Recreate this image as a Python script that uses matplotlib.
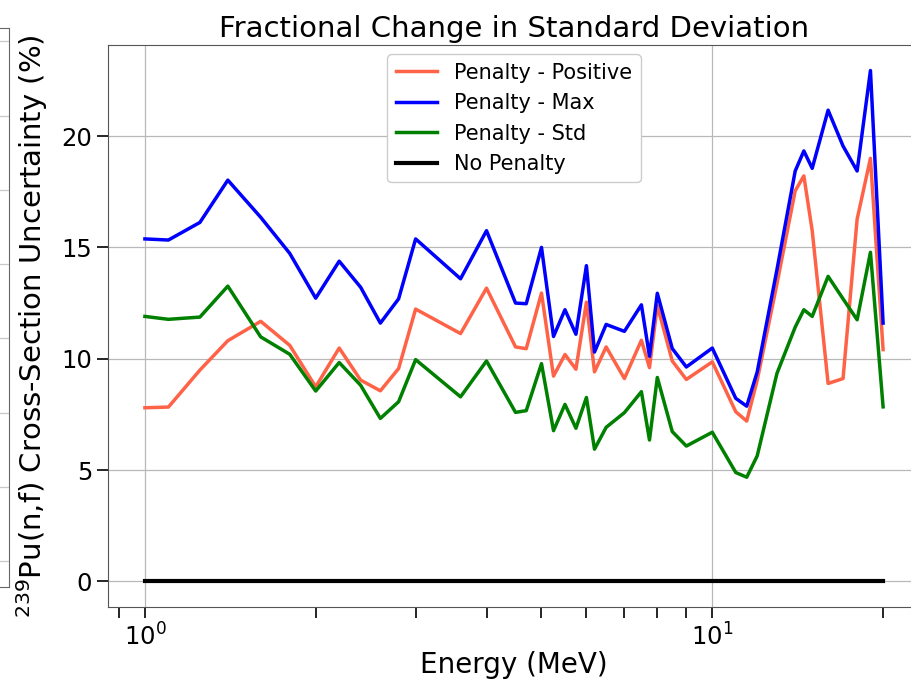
import matplotlib
matplotlib.use("Agg")
import matplotlib.pyplot as plt
import numpy as np

# energy grid (MeV)
energy = [1.0, 1.1, 1.25, 1.4, 1.6, 1.8, 2.0, 2.2, 2.4, 2.6, 2.8, 3.0, 3.6, 4.0,
          4.5, 4.7, 5.0, 5.25, 5.5, 5.75, 6.0, 6.2, 6.5, 7.0, 7.5, 7.75, 8.0, 8.5,
          9.0, 10.0, 11.0, 11.5, 12.0, 13.0, 14.0, 14.5, 15.0, 16.0, 17.0, 18.0,
          19.0, 20.0]

pen_positive = [7.80, 7.83, 9.49, 10.81, 11.68, 10.60, 8.74, 10.48, 9.04, 8.56,
                9.56, 12.23, 11.13, 13.17, 10.53, 10.45, 12.95, 9.22, 10.19, 9.53,
                12.54, 9.41, 10.53, 9.11, 10.83, 9.60, 12.39, 9.90, 9.07, 9.86,
                7.62, 7.20, 9.04, 13.36, 17.54, 18.21, 15.75, 8.89, 9.11, 16.27,
                19.00, 10.41]

pen_max = [15.38, 15.33, 16.12, 18.02, 16.35, 14.73, 12.72, 14.38, 13.21, 11.60,
           12.69, 15.38, 13.59, 15.75, 12.50, 12.47, 15.00, 11.00, 12.20, 11.10,
           14.18, 10.30, 11.54, 11.23, 12.42, 10.11, 12.94, 10.46, 9.63, 10.48,
           8.22, 7.87, 9.41, 14.00, 18.43, 19.33, 18.55, 21.16, 19.55, 18.43,
           22.94, 11.60]

pen_std = [11.90, 11.77, 11.87, 13.26, 10.98, 10.20, 8.55, 9.83, 8.81, 7.32,
           8.07, 9.96, 8.29, 9.90, 7.59, 7.67, 9.78, 6.77, 7.95, 6.88, 8.26,
           5.94, 6.92, 7.58, 8.52, 6.35, 9.16, 6.73, 6.08, 6.70, 4.89, 4.68,
           5.64, 9.34, 11.42, 12.20, 11.90, 13.70, 12.69, 11.75, 14.78, 7.84]

no_penalty = [0.0] * len(energy)

plt.rcParams['font.family'] = ['DejaVu Sans']

fig = plt.figure(figsize=(9.12, 6.83), dpi=100)

# edge of the neighbouring panel (mostly cropped away)
ax0 = fig.add_axes([-0.5, 1 - 587 / 683, 0.5 + 9 / 912, 559 / 683])
ax0.set_ylim(-0.35, 7.18)
ax0.set_yticks(range(8))
ax0.set_xticks([])
ax0.tick_params(left=False, labelleft=False)
ax0.grid(True, axis='y', color='#c8c8c8', lw=0.9)
for s in ax0.spines.values():
    s.set_color('#666666')

ax = fig.add_axes([108 / 912, 1 - 607 / 683, 812 / 912, 562 / 683])
ax.plot(energy, pen_positive, color='tomato', lw=2.5, label='Penalty - Positive')
ax.plot(energy, pen_max, color='blue', lw=2.5, label='Penalty - Max')
ax.plot(energy, pen_std, color='green', lw=2.5, label='Penalty - Std')
ax.plot(energy, no_penalty, color='black', lw=3, label='No Penalty')
ax.set_xscale('log')

ax.grid(True, which='major', color='#b8b8b8', lw=0.9)
ax.set_axisbelow(True)
for s in ax.spines.values():
    s.set_color('#555555')

ax.set_yticks([0, 5, 10, 15, 20])
ax.tick_params(axis='both', which='both', labelsize=17.5, length=8, width=1.2,
               color='black')
ax.tick_params(axis='x', which='both', pad=4)

ax.set_title('Fractional Change in Standard Deviation', fontsize=21)
ax.set_xlabel('Energy (MeV)', fontsize=20, labelpad=0)
ax.set_ylabel('$^{239}$Pu(n,f) Cross-Section Uncertainty (%)', fontsize=21,
              labelpad=8)

ax.legend(loc='upper center', fontsize=15, framealpha=1, edgecolor='#cccccc',
          handlelength=2.0, borderaxespad=0.45)

fig.savefig('out.png', dpi=100)
